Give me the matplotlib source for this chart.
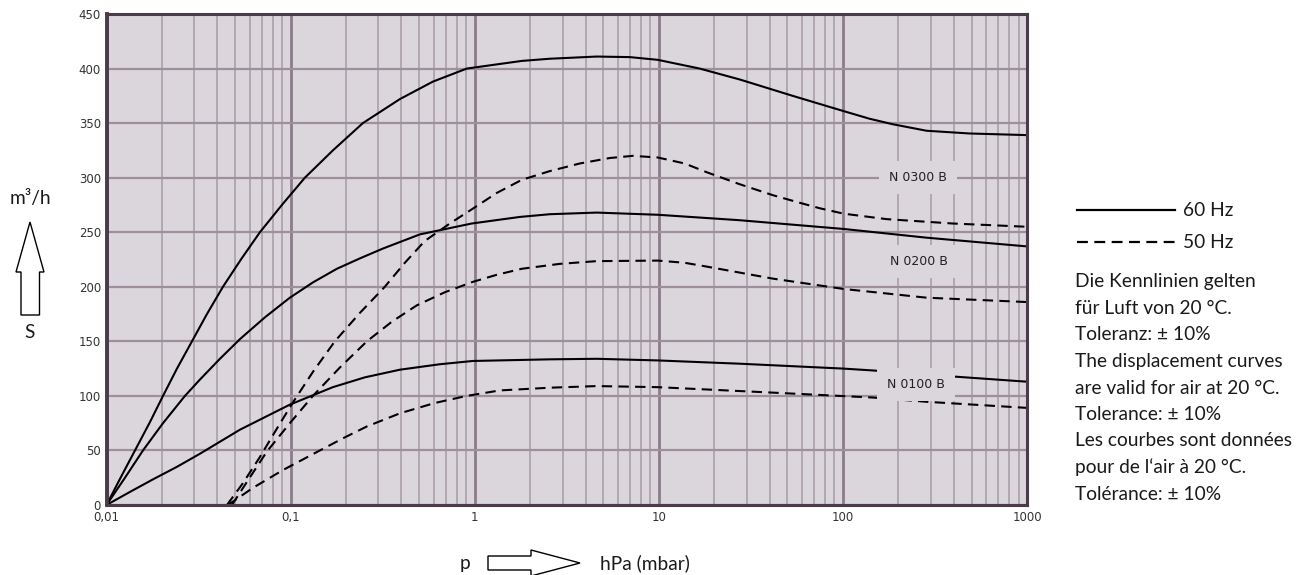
"""
Saugvermögen S (m^3/h) über Ansaugdruck p (hPa) für N 0100 B, N 0200 B, N 0300 B,
jeweils 60 Hz (durchgezogen) und 50 Hz (gestrichelt).
"""

import numpy as np
import matplotlib
matplotlib.use("Agg")
import matplotlib.pyplot as plt
from matplotlib.lines import Line2D
from matplotlib.patches import Polygon
from matplotlib.ticker import FixedLocator, FixedFormatter, LogLocator, NullFormatter

# --- data (p in hPa, S in m^3/h) ---
n0300_60_p = [0.01, 0.01184, 0.01428, 0.01722, 0.02027, 0.02414, 0.02912, 0.03512, 0.04291,
              0.05372, 0.06813, 0.0897, 0.1196, 0.1697, 0.2469, 0.3922, 0.5922, 0.9061,
              1.802, 2.557, 4.601, 6.95, 9.863, 16.67, 27.5, 53.33, 100.9, 139.6, 186.2,
              284.7, 487.3, 1000]
n0300_60_s = [0, 24, 50, 76, 100, 125, 150, 175, 200,
              225, 250, 275, 300, 325, 350, 372, 388, 400,
              407, 409, 411, 410.5, 408, 400, 390, 375, 361, 354, 349,
              343, 340.5, 339]

n0200_60_p = [0.01, 0.0126, 0.01578, 0.02027, 0.02668, 0.03219, 0.04132, 0.05305, 0.07253,
              0.0991, 0.1322, 0.1784, 0.2378, 0.317, 0.5033, 0.9645, 1.757, 2.557, 4.601,
              9.863, 27.5, 100.9, 284.7, 1000]
n0200_60_s = [0, 25, 50, 75, 100, 115, 134, 152, 172,
              190, 204, 216.5, 226, 235, 248, 258, 264, 266.5, 268,
              266, 261, 253, 245, 237]

n0100_60_p = [0.01, 0.01341, 0.01788, 0.02414, 0.03219, 0.05305, 0.0991, 0.1697, 0.2532,
              0.3922, 0.6463, 0.9765, 2.557, 4.601, 9.863, 27.5, 100.9, 172.7, 379.6, 1000]
n0100_60_s = [0, 12, 23.5, 35, 47, 69, 92, 108, 117,
              124, 129, 132, 133.5, 134, 132.5, 129.5, 125, 122.5, 118, 113]

n0300_50_p = [0.04511, 0.05508, 0.06813, 0.08424, 0.1029, 0.1322, 0.1739, 0.2378, 0.3249,
              0.4174, 0.5359, 0.7325, 0.9645, 1.318, 1.802, 2.557, 3.721, 5.412, 7.217,
              9.863, 13.82, 18.2, 27.5, 41.53, 58.22, 74.73, 100.9, 172.7, 394, 1000]
n0300_50_s = [0, 20, 44, 70, 94, 122, 150, 176, 200,
              222, 242, 258, 271, 286, 298, 306, 313, 318, 320,
              318.5, 313, 305, 294, 284, 277, 272, 267, 262, 258, 255]

n0200_50_p = [0.04801, 0.05939, 0.07435, 0.0991, 0.1322, 0.1852, 0.2597, 0.3548, 0.4851,
              0.6882, 0.9765, 1.318, 1.802, 2.897, 4.601, 9.863, 13.82, 18.2, 27.5, 41.53,
              100.9, 284.7, 1000]
n0200_50_s = [0, 24, 49, 75, 100, 126, 150, 168, 183,
              195, 204.5, 211, 216.5, 221, 223.5, 224, 222, 218.5, 213, 207.5,
              198, 190, 186]

n0100_50_p = [0.04567, 0.06241, 0.09082, 0.1442, 0.1971, 0.2597, 0.3922, 0.6073, 0.9061,
              1.369, 2.557, 4.601, 9.863, 41.53, 144.9, 284.7, 1000]
n0100_50_s = [0, 15.7, 32, 50, 62, 72, 84, 93.5, 100,
              105, 107.5, 109, 108, 103, 98.5, 94.6, 89]

x_ticks = [0.01, 0.1, 1, 10, 100, 1000]
x_tick_labels = ["0,01", "0,1", "1", "10", "100", "1000"]
y_ticks = list(range(0, 451, 50))

pump_labels = ["N 0300 B", "N 0200 B", "N 0100 B"]
pump_label_p = [255, 260, 250]
pump_label_s = [300, 223, 110]

note_lines = [
    "Die Kennlinien gelten",
    "für Luft von 20 °C.",
    "Toleranz: ± 10%",
    "The displacement curves",
    "are valid for air at 20 °C.",
    "Tolerance: ± 10%",
    "Les courbes sont données",
    "pour de l‘air à 20 °C.",
    "Tolérance: ± 10%",
]

# --- layout helpers (pixel -> figure fraction) ---
W, H = 1309, 575
BG = "#dbd6db"
TXT_FONT = ["Lato", "DejaVu Sans"]
TXT_SIZE = 13.8


def fx(x):
    return x / W


def fy(y):
    return 1 - y / H


fig = plt.figure(figsize=(W / 100, H / 100), dpi=100)
ax = fig.add_axes([fx(106.5), fy(505), (1027 - 106.5) / W, (505 - 14) / H])
ax.set_facecolor(BG)
ax.set_xscale("log")
ax.set_xlim(0.01, 1000)
ax.set_ylim(0, 450)

ax.xaxis.set_major_locator(FixedLocator(x_ticks))
ax.xaxis.set_major_formatter(FixedFormatter(x_tick_labels))
ax.xaxis.set_minor_locator(LogLocator(base=10, subs=np.arange(2, 10)))
ax.xaxis.set_minor_formatter(NullFormatter())
ax.set_yticks(y_ticks)

ax.set_axisbelow(True)
ax.xaxis.grid(True, which="minor", color="#ab9fa9", lw=1.2)
ax.xaxis.grid(True, which="major", color="#8c7c8a", lw=2.0)
ax.yaxis.grid(True, which="major", color="#9d8f9b", lw=1.6)

ax.tick_params(axis="both", which="both", length=0, labelsize=8.5, labelcolor="#333333")
ax.tick_params(axis="y", pad=4)
ax.tick_params(axis="x", pad=4)

for side, spine in ax.spines.items():
    spine.set_color("#4b3a4a")
    spine.set_linewidth(2.8 if side == "left" else 2.2)

# curves
dash = (0, (5, 3))
for p, s in [(n0300_60_p, n0300_60_s), (n0200_60_p, n0200_60_s), (n0100_60_p, n0100_60_s)]:
    ax.plot(p, s, color="black", lw=1.5, solid_joinstyle="round")
for p, s in [(n0300_50_p, n0300_50_s), (n0200_50_p, n0200_50_s), (n0100_50_p, n0100_50_s)]:
    ax.plot(p, s, color="black", lw=1.5, linestyle=dash)

for lab, p, s in zip(pump_labels, pump_label_p, pump_label_s):
    ax.text(p, s, lab, ha="center", va="center", fontsize=9, color="#222222",
            bbox=dict(boxstyle="square,pad=0.8", fc=BG, ec="none"), zorder=5)

# y axis caption with hollow arrow
fig.text(fx(30), fy(198), "m³/h", ha="center", va="center", fontsize=TXT_SIZE,
         family=TXT_FONT, color="#1a1a1a")
fig.text(fx(30), fy(332), "S", ha="center", va="center", fontsize=TXT_SIZE,
         family=TXT_FONT, color="#1a1a1a")
up_arrow = [(30, 222), (44, 272), (39.5, 272), (39.5, 315), (21, 315), (21, 272), (16, 272)]
fig.add_artist(Polygon([(fx(x), fy(y)) for x, y in up_arrow], closed=True,
                       transform=fig.transFigure, fc="white", ec="black", lw=1))

# x axis caption with hollow arrow
fig.text(fx(465), fy(563), "p", ha="center", va="center", fontsize=TXT_SIZE,
         family=TXT_FONT, color="#1a1a1a")
fig.text(fx(600), fy(563), "hPa (mbar)", ha="left", va="center", fontsize=TXT_SIZE,
         family=TXT_FONT, color="#1a1a1a")
right_arrow = [(580, 563), (531, 550), (531, 556), (488, 556), (488, 570), (531, 570), (531, 576)]
fig.add_artist(Polygon([(fx(x), fy(y)) for x, y in right_arrow], closed=True,
                       transform=fig.transFigure, fc="white", ec="black", lw=1))

# legend
fig.add_artist(Line2D([fx(1077), fx(1175)], [fy(210), fy(210)], transform=fig.transFigure,
                      color="black", lw=1.6))
fig.add_artist(Line2D([fx(1077), fx(1175)], [fy(242), fy(242)], transform=fig.transFigure,
                      color="black", lw=1.6, linestyle=(0, (4.9, 2.9))))
fig.text(fx(1183), fy(210), "60 Hz", ha="left", va="center", fontsize=TXT_SIZE,
         family=TXT_FONT, color="#1a1a1a")
fig.text(fx(1183), fy(242), "50 Hz", ha="left", va="center", fontsize=TXT_SIZE,
         family=TXT_FONT, color="#1a1a1a")

# notes
for i, line in enumerate(note_lines):
    fig.text(fx(1075), fy(282 + i * 26.5), line, ha="left", va="center", fontsize=TXT_SIZE,
             family=TXT_FONT, color="#1a1a1a")

fig.savefig("out.png", dpi=100, facecolor="white")
